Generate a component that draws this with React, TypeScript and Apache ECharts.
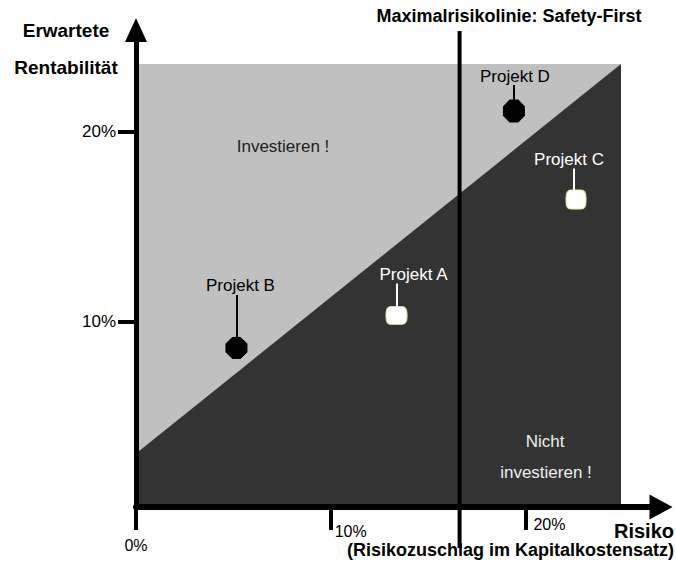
import React, { useEffect, useRef } from "react";
import * as echarts from "echarts";

// ---- data (percent values) ----
const projectNames = ["Projekt A", "Projekt B", "Projekt C", "Projekt D"];
const projectRisk = [13.38, 5.16, 22.6, 19.41];
const projectReturn = [10.33, 8.62, 16.42, 21.07];

const xTickValues = [0, 10, 20];
const yTickValues = [10, 20];

const regionRisk = [0, 24.91];
const regionTopReturn = 23.54;
const boundaryReturn = [3.07, 23.54]; // decision line's return at regionRisk[0] and regionRisk[1]

const safetyFirstRisk = 16.62;
const safetyLineReturnRange = [-1.89, 25.28];

const X_MIN = 0;
const X_MAX = 26.4;
const Y_MIN = 0.26;
const Y_MAX = 24.7;

// ---- styles ----
const FONT = '"Liberation Sans", Arial, Helvetica, sans-serif';
const LIGHT = "#c0c0c0";
const DARK = "#333333";

const octagon = "path://M30,0 L70,0 L100,30 L100,70 L70,100 L30,100 L0,70 L0,30 Z";
const roundBox =
  "path://M25,0 L75,0 Q100,0 100,40 L100,60 Q100,100 75,100 L25,100 Q0,100 0,60 L0,40 Q0,0 25,0 Z";

const markerStyle = [
  { symbol: roundBox, size: [21, 18], fill: "#ffffff", border: "#e4e4a8" },
  { symbol: octagon, size: [21, 21], fill: "#000000", border: "#000000" },
  { symbol: roundBox, size: [20, 19], fill: "#ffffff", border: "#e4e4a8" },
  { symbol: octagon, size: [21, 22], fill: "#000000", border: "#000000" },
];

const labelStyle = [
  { dx: 17, dy: -41, lx: 0, r: 8, color: "#ffffff" },
  { dx: 4, dy: -62, lx: 1, r: 9, color: "#000000" },
  { dx: -7, dy: -40, lx: -2, r: 9, color: "#ffffff" },
  { dx: 1, dy: -35, lx: 0, r: 10, color: "#000000" },
];

const centered = { align: "center", verticalAlign: "middle", textAlign: "center", textVerticalAlign: "middle" };
const rightMid = { align: "right", verticalAlign: "middle", textAlign: "right", textVerticalAlign: "middle" };

export default function App() {
  const ref = useRef<HTMLDivElement>(null);

  useEffect(() => {
    if (!ref.current) return;
    const chart = echarts.init(ref.current, undefined, { renderer: "svg" });

    const option: any = {
      animation: false,
      backgroundColor: "#ffffff",
      grid: { left: 136, right: 26, top: 42, bottom: 58, containLabel: false },
      xAxis: {
        type: "value",
        min: X_MIN,
        max: X_MAX,
        z: 10,
        axisLine: {
          show: true,
          lineStyle: { color: "#000", width: 6 },
          symbol: ["none", "triangle"],
          symbolSize: [25, 23],
          symbolOffset: [0, 11],
        },
        axisTick: {
          show: true,
          customValues: xTickValues,
          length: 23,
          lineStyle: { color: "#000", width: 4 },
        },
        axisLabel: {
          show: true,
          customValues: xTickValues,
          margin: 9,
          color: "#000",
          fontFamily: FONT,
          fontSize: 16,
          formatter: (v: number) => `{t${xTickValues.indexOf(v)}|${v}%}`,
          rich: {
            t0: { fontFamily: FONT, fontSize: 16, color: "#000", padding: [21, 0, 0, 0] },
            t1: { fontFamily: FONT, fontSize: 16, color: "#000", padding: [7, 0, 0, 40] },
            t2: { fontFamily: FONT, fontSize: 16, color: "#000", padding: [0, 0, 0, 48] },
          },
        },
        splitLine: { show: false },
      },
      yAxis: {
        type: "value",
        min: Y_MIN,
        max: Y_MAX,
        z: 10,
        axisLine: {
          show: true,
          lineStyle: { color: "#000", width: 5 },
          symbol: ["none", "triangle"],
          symbolSize: [22, 24],
          symbolOffset: [0, 12],
        },
        axisTick: {
          show: true,
          customValues: yTickValues,
          length: 18,
          lineStyle: { color: "#000", width: 4 },
        },
        axisLabel: {
          show: true,
          customValues: yTickValues,
          margin: 20,
          color: "#000",
          fontFamily: FONT,
          fontSize: 17,
          formatter: (v: number) => `${v}%`,
        },
        splitLine: { show: false },
      },
      series: [
        {
          type: "custom",
          name: "regions",
          silent: true,
          z: 1,
          data: [[0, 0]],
          renderItem: (_p: any, api: any) => {
            const c = (x: number, y: number) => api.coord([x, y]);
            const light = [
              c(regionRisk[0], Y_MIN),
              c(regionRisk[0], regionTopReturn),
              c(regionRisk[1], regionTopReturn),
              c(regionRisk[1], Y_MIN),
            ];
            const dark = [
              c(regionRisk[0], Y_MIN),
              c(regionRisk[0], boundaryReturn[0]),
              c(regionRisk[1], boundaryReturn[1]),
              c(regionRisk[1], Y_MIN),
            ];
            return {
              type: "group",
              children: [
                { type: "polygon", shape: { points: light }, style: { fill: LIGHT } },
                { type: "polygon", shape: { points: dark }, style: { fill: DARK } },
              ],
            };
          },
        },
        {
          type: "custom",
          name: "safety-first",
          silent: true,
          z: 3,
          data: [[safetyFirstRisk, safetyLineReturnRange[0], safetyLineReturnRange[1]]],
          renderItem: (_p: any, api: any) => {
            const a = api.coord([api.value(0), api.value(1)]);
            const b = api.coord([api.value(0), api.value(2)]);
            return {
              type: "line",
              shape: { x1: a[0], y1: a[1], x2: b[0], y2: b[1] },
              style: { stroke: "#000", lineWidth: 4 },
            };
          },
        },
        {
          type: "scatter",
          name: "projects",
          z: 5,
          data: projectNames.map((n, i) => ({
            name: n,
            value: [projectRisk[i], projectReturn[i]],
            symbol: markerStyle[i].symbol,
            symbolSize: markerStyle[i].size,
            itemStyle: {
              color: markerStyle[i].fill,
              borderColor: markerStyle[i].border,
              borderWidth: 1,
              opacity: 1,
            },
          })),
        },
        {
          type: "custom",
          name: "project-labels",
          silent: true,
          z: 6,
          data: projectNames.map((_n, i) => [projectRisk[i], projectReturn[i], i]),
          renderItem: (_p: any, api: any) => {
            const i = api.value(2);
            const pt = api.coord([api.value(0), api.value(1)]);
            const s = labelStyle[i];
            const x = Math.round(pt[0] + s.lx);
            const top = pt[1] + s.dy + 9;
            const bottom = pt[1] - s.r;
            return {
              type: "group",
              children: [
                {
                  type: "rect",
                  shape: { x: x - 1, y: top, width: 2, height: bottom - top },
                  style: { fill: s.color, stroke: null },
                },
                {
                  type: "text",
                  x: pt[0] + s.dx,
                  y: pt[1] + s.dy,
                  style: {
                    text: projectNames[i],
                    fill: s.color,
                    font: `17px ${FONT}`,
                    ...centered,
                  },
                },
              ],
            };
          },
        },
      ],
      graphic: [
        { type: "text", x: 66, y: 30, style: { text: "Erwartete", font: `bold 19px ${FONT}`, fill: "#000", ...centered } },
        { type: "text", x: 66, y: 67, style: { text: "Rentabilität", font: `bold 19px ${FONT}`, fill: "#000", ...centered } },
        {
          type: "text",
          x: 509,
          y: 16,
          style: { text: "Maximalrisikolinie: Safety-First", font: `bold 18px ${FONT}`, fill: "#000", ...centered },
        },
        { type: "text", x: 283, y: 146, z: 20, style: { text: "Investieren !", font: `17px ${FONT}`, fill: "#222", ...centered } },
        { type: "text", x: 545, y: 441, z: 20, style: { text: "Nicht", font: `17px ${FONT}`, fill: "#eeeeee", ...centered } },
        { type: "text", x: 546, y: 472, z: 20, style: { text: "investieren !", font: `17px ${FONT}`, fill: "#eeeeee", ...centered } },
        { type: "text", x: 674, y: 531, style: { text: "Risiko", font: `bold 20px ${FONT}`, fill: "#000", ...rightMid } },
        {
          type: "text",
          x: 674,
          y: 550,
          style: { text: "(Risikozuschlag im Kapitalkostensatz)", font: `bold 18px ${FONT}`, fill: "#000", ...rightMid },
        },
      ],
    };

    chart.setOption(option);
    return () => chart.dispose();
  }, []);

  return (
    <div ref={ref} style={{ position: "fixed", left: 0, top: 0, width: 676, height: 565, background: "#fff" }} />
  );
}
